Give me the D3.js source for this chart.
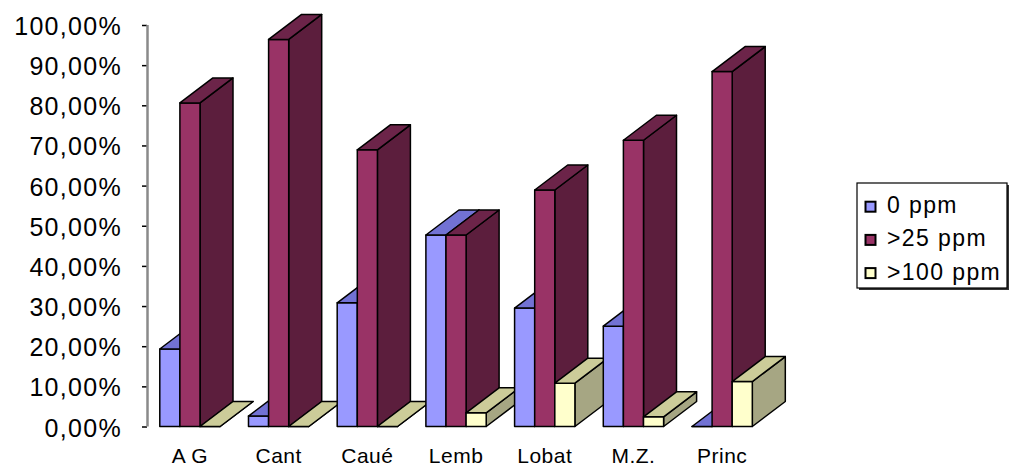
<!DOCTYPE html>
<html>
<head>
<meta charset="utf-8">
<script src="https://cdn.jsdelivr.net/npm/d3@7/dist/d3.min.js"></script>
<style>
  html, body { margin: 0; padding: 0; background: #fff; }
  svg { display: block; }
  text { font-family: "Liberation Sans", Arial, sans-serif; fill: #000; }
</style>
</head>
<body>
<svg id="chart" width="1017" height="468"></svg>
<script>
// Share of samples per location in each concentration class (%)
const categories = ["A G", "Cant", "Caué", "Lemb", "Lobat", "M.Z.", "Princ"];
const seriesNames = ["0 ppm", ">25 ppm", ">100 ppm"];
const ppm0   = [19.3, 2.6, 30.8, 47.7, 29.5, 25.0, 0];
const ppm25  = [80.6, 96.4, 68.9, 47.7, 58.9, 71.3, 88.4];
const ppm100 = [0, 0, 0, 3.4, 10.8, 2.4, 11.2];
const yTicks = [0, 10, 20, 30, 40, 50, 60, 70, 80, 90, 100];

const seriesValues = [ppm0, ppm25, ppm100];

// face colours per series: front, top, side
const faceColors = [
  { front: "#9999FF", top: "#7272D4", side: "#5C5C99" },
  { front: "#993366", top: "#6C2449", side: "#5C1E3D" },
  { front: "#FFFFCC", top: "#CCCC99", side: "#A6A683" }
];

const svg = d3.select("#chart");

const x = d3.scaleBand()
  .domain(categories)
  .range([145.6, 766.5])
  .paddingInner(0.32)
  .paddingOuter(0.16);

const xs = d3.scaleBand()
  .domain(seriesNames)
  .range([0, x.bandwidth()]);

const y = d3.scaleLinear()
  .domain([0, 100])
  .range([426.5, 25]);

// oblique depth of each column
const depth = { dx: 33, dy: -25 };

// value axis
const yAxis = d3.axisLeft(y)
  .tickValues(yTicks)
  .tickSize(5)
  .tickPadding(20)
  .tickFormat(d => d3.format(".2f")(d).replace(".", ",") + "%");

const gy = svg.append("g")
  .attr("transform", "translate(147,0)")
  .call(yAxis);
gy.select(".domain").remove();
gy.append("line")
  .attr("x1", 0.5).attr("x2", 0.5)
  .attr("y1", y(100)).attr("y2", y(0))
  .attr("stroke", "#8a8a8a").attr("stroke-width", 2.5);
gy.selectAll(".tick line").attr("stroke", "#000").attr("stroke-width", 1.5);
gy.selectAll(".tick text")
  .attr("font-size", 25)
  .attr("letter-spacing", 1.3)
  .attr("dy", "0.38em")
  .style("font-family", "'Liberation Sans', Arial, sans-serif")
  .attr("fill", "#000");

// columns, drawn left to right so nearer faces overlap properly
const bars = [];
categories.forEach((c, i) => {
  seriesNames.forEach((s, j) => {
    bars.push({ cat: c, ser: s, j: j, v: seriesValues[j][i] });
  });
});

const gBars = svg.append("g")
  .attr("stroke", "#000")
  .attr("stroke-width", 1.5)
  .attr("stroke-linejoin", "round");

bars.forEach(b => {
  const x0 = x(b.cat) + xs(b.ser);
  const x1 = x0 + xs.bandwidth();
  const yT = y(b.v);
  const yB = y(0);
  const { dx, dy } = depth;
  const col = faceColors[b.j];
  const g = gBars.append("g");
  // right side
  g.append("path")
    .attr("d", `M${x1},${yB} L${x1 + dx},${yB + dy} L${x1 + dx},${yT + dy} L${x1},${yT} Z`)
    .attr("fill", col.side);
  // front
  g.append("path")
    .attr("d", `M${x0},${yB} L${x1},${yB} L${x1},${yT} L${x0},${yT} Z`)
    .attr("fill", col.front);
  // top
  g.append("path")
    .attr("d", `M${x0},${yT} L${x1},${yT} L${x1 + dx},${yT + dy} L${x0 + dx},${yT + dy} Z`)
    .attr("fill", col.top);
});

// category labels
svg.append("g")
  .selectAll("text")
  .data(categories)
  .join("text")
  .attr("x", d => x(d) + x.bandwidth() / 2)
  .attr("y", 463)
  .attr("text-anchor", "middle")
  .attr("font-size", 21)
  .attr("letter-spacing", 0.5)
  .text(d => d);

// legend
const lg = svg.append("g").attr("transform", "translate(857,183)");
lg.append("rect")
  .attr("x", 2).attr("y", 2).attr("width", 150).attr("height", 105)
  .attr("fill", "#333");
lg.append("rect")
  .attr("x", 0).attr("y", 0).attr("width", 150).attr("height", 105)
  .attr("fill", "#fff").attr("stroke", "#000").attr("stroke-width", 1.2);

const li = lg.selectAll("g.item")
  .data(seriesNames)
  .join("g")
  .attr("class", "item")
  .attr("transform", (d, i) => `translate(0,${23.7 + i * 33.2})`);
li.append("rect")
  .attr("x", 8.5).attr("y", -5).attr("width", 10).attr("height", 10)
  .attr("fill", (d, i) => faceColors[i].front)
  .attr("stroke", "#000").attr("stroke-width", 2);
li.append("text")
  .attr("x", 30)
  .attr("y", 6.5)
  .attr("font-size", 23)
  .attr("letter-spacing", 1.4)
  .text(d => d);
</script>
</body>
</html>
